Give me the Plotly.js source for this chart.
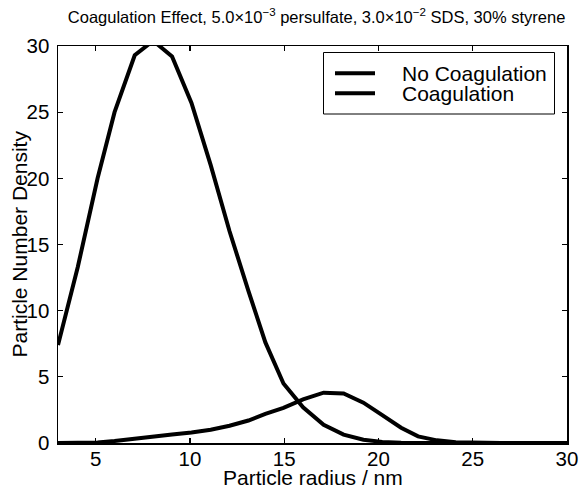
<!DOCTYPE html>
<html>
<head>
<meta charset="utf-8">
<script src="https://cdn.plot.ly/plotly-3.0.1.min.js"></script>
<style>
  html, body { margin: 0; padding: 0; background: #fff; }
  #chart { width: 579px; height: 488px; }
</style>
</head>
<body>
<div id="chart"></div>
<script>
// Particle radius grid (nm)
const radius = [3, 4.05, 5.1, 6.0, 7.07, 8.05, 9.05, 10.08, 11.1, 12.1, 13.1, 14.0, 14.96,
                16.0, 17.09, 18.15, 19.2, 20.2, 21.2, 22.1, 23.1, 24.1, 25.1, 26.5, 28, 30];

// Particle number density without coagulation
const noCoagulation = [7.4, 13.3, 20.0, 25.0, 29.3, 30.4, 29.2, 25.7, 21.0, 16.0, 11.5, 7.6, 4.5,
                       2.7, 1.38, 0.63, 0.25, 0.08, 0.02, 0, 0, 0, 0, 0, 0, 0];

// Particle number density with coagulation
const coagulation = [0.0, 0.01, 0.04, 0.15, 0.35, 0.52, 0.65, 0.8, 1.0, 1.3, 1.7, 2.2, 2.65,
                     3.3, 3.8, 3.75, 3.05, 2.1, 1.15, 0.5, 0.2, 0.06, 0.02, 0, 0, 0];

const seriesNames = ['No Coagulation', 'Coagulation'];
const xTicks = [5, 10, 15, 20, 25, 30];
const yTicks = [0, 5, 10, 15, 20, 25, 30];

const FONT = 'Liberation Sans, Arial, Helvetica, sans-serif';
const lineStyle = { color: '#000', width: 4 };

const traces = [
  { x: radius, y: noCoagulation, name: seriesNames[0], type: 'scatter', mode: 'lines', line: lineStyle },
  { x: radius, y: coagulation, name: seriesNames[1], type: 'scatter', mode: 'lines', line: lineStyle }
];

const axisCommon = {
  showline: true, mirror: 'ticks', linecolor: '#000', linewidth: 1.5,
  ticks: 'inside', ticklen: 5, tickwidth: 1.2, tickcolor: '#000',
  showgrid: false, zeroline: false, automargin: false,
  tickfont: { family: FONT, size: 20.5, color: '#000' }
};

// Legend frame in pixel terms of the plot area (left 58, top 46, 509 x 397)
const W = 509, H = 397;
const px = v => (v - 58) / W;          // horizontal pixel -> paper
const py = v => (443 - v) / H;         // vertical pixel -> paper

const legendRows = [73.3, 93.3];
const shapes = [
  { type: 'rect', xref: 'paper', yref: 'paper',
    x0: px(323.5), x1: px(554.5), y0: py(114), y1: py(52.5),
    line: { color: '#000', width: 1 }, fillcolor: '#fff', layer: 'above' }
];
const annotations = [
  { text: 'Particle radius / nm', xref: 'paper', yref: 'paper', x: 0.5, y: 0,
    xanchor: 'center', yanchor: 'middle', yshift: -34, showarrow: false,
    font: { family: FONT, size: 21, color: '#000' } },
  { text: 'Particle Number Density', xref: 'paper', yref: 'paper', x: 0, y: 0.5,
    xanchor: 'center', yanchor: 'middle', xshift: -39, textangle: -90, showarrow: false,
    font: { family: FONT, size: 21, color: '#000' } }
];
seriesNames.forEach((name, i) => {
  shapes.push({ type: 'line', xref: 'paper', yref: 'paper',
    x0: px(335), x1: px(375), y0: py(legendRows[i]), y1: py(legendRows[i]),
    line: { color: '#000', width: 4 }, layer: 'above' });
  annotations.push({ text: name, xref: 'paper', yref: 'paper',
    x: px(400), y: py(legendRows[i]), xanchor: 'left', yanchor: 'middle',
    showarrow: false, font: { family: FONT, size: 21, color: '#000' } });
});

const layout = {
  width: 579, height: 488,
  paper_bgcolor: '#fff', plot_bgcolor: '#fff',
  margin: { l: 58, r: 12, t: 46, b: 45 },
  title: {
    text: 'Coagulation Effect, 5.0×10<sup>−3</sup> persulfate, 3.0×10<sup>−2</sup> SDS, 30% styrene',
    font: { family: FONT, size: 16.5, color: '#000' },
    xref: 'paper', x: 0.508, xanchor: 'center',
    yref: 'container', y: 0.965, yanchor: 'middle'
  },
  xaxis: Object.assign({}, axisCommon, { range: [3, 30], tickvals: xTicks, ticklabelstandoff: -3 }),
  yaxis: Object.assign({}, axisCommon, { range: [0, 30], tickvals: yTicks, ticklabelstandoff: 3 }),
  showlegend: false,
  shapes: shapes,
  annotations: annotations
};

Plotly.newPlot('chart', traces, layout, { staticPlot: true, displayModeBar: false });
</script>
</body>
</html>
